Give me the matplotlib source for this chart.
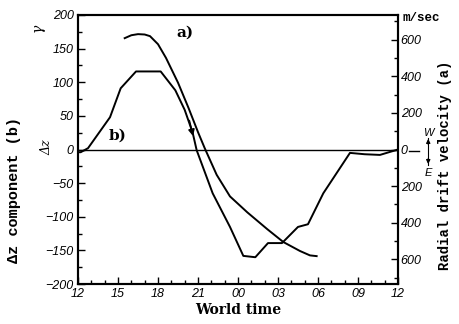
import numpy as np
import matplotlib.pyplot as plt
from matplotlib.ticker import MultipleLocator, FuncFormatter

# hours of world time, counted on from 12 h of the first day
b_time = [12.0, 12.2, 12.75, 14.4, 15.2, 16.35, 18.2, 19.3, 20.0, 20.6, 20.9, 22.1, 23.4,
          24.4, 25.3, 26.25, 27.3, 28.5, 29.25, 30.4, 32.4, 33.5, 34.65, 36.0]
b_dz = [-4, -4, 2, 48, 91, 116, 116, 88, 59, 25, -1, -65, -115,
        -158, -160, -139, -139, -115, -111, -65, -5, -7, -8, 0]

a_time = [15.5, 16.0, 16.5, 17.0, 17.4, 18.0, 18.6, 19.5, 20.3, 21.0, 21.5, 22.4, 23.4,
          24.7, 26.2, 27.4, 28.65, 29.4, 29.9]
a_vel = [608, 624, 630, 628, 619, 575, 500, 365, 225, 95, 8, -138, -256,
         -343, -435, -505, -554, -578, -582]

tick_hours = [12, 15, 18, 21, 24, 27, 30, 33, 36]
tick_labels = ['12', '15', '18', '21', '00', '03', '06', '09', '12']

fig = plt.figure(figsize=(4.59, 3.24), dpi=100)
ax = fig.add_axes([0.170, 0.123, 0.697, 0.831])
ax2 = ax.twinx()

tickfont = dict(family='Liberation Sans', style='italic', size=9)
serif = dict(family='DejaVu Serif', weight='bold')

ax.plot(b_time, b_dz, color='black', lw=1.4)
ax.axhline(0, color='black', lw=1.0)
ax.set_xlim(12, 36)
ax.set_ylim(-200, 200)
ax.set_xticks(tick_hours)
ax.set_xticklabels(tick_labels, **tickfont)
ax.xaxis.set_minor_locator(MultipleLocator(1))
ax.set_yticks(range(-200, 201, 50))
ax.set_yticklabels([str(v).replace('-', '\u2212') for v in range(-200, 201, 50)], **tickfont)
ax.yaxis.set_minor_locator(MultipleLocator(25))
ax.tick_params(which='both', direction='in', length=5, width=1.0, pad=3)
ax.tick_params(which='minor', length=3)

ax2.plot(a_time, a_vel, color='black', lw=1.4)
ax2.set_ylim(-735, 735)
ax2.set_yticks([-600, -400, -200, 0, 200, 400, 600])
ax2.yaxis.set_major_formatter(FuncFormatter(lambda v, p: '%d' % abs(v)))
for lab in ax2.get_yticklabels():
    lab.set_fontfamily('Liberation Sans')
    lab.set_fontstyle('italic')
    lab.set_fontsize(9)
ax2.yaxis.set_minor_locator(MultipleLocator(100))
ax2.tick_params(which='both', direction='in', length=5, width=1.0, pad=2)
ax2.tick_params(which='minor', length=3)

for a in (ax, ax2):
    for s in a.spines.values():
        s.set_linewidth(1.5)

# arrow on curve b
ax.annotate('', xy=(20.68, 16), xytext=(20.3, 47),
            arrowprops=dict(arrowstyle='-|>', color='black', lw=1.2, mutation_scale=9))

ax.text(19.4, 173, 'a)', fontsize=11, ha='left', va='center', **serif)
ax.text(15.0, 21, 'b)', fontsize=11, ha='center', va='center', **serif)

ax.set_xlabel('World time', fontsize=10, labelpad=2, **serif)
fig.text(0.030, 0.415, '\u0394z component (b)', rotation=90, ha='center', va='center',
         fontsize=11, family='Liberation Mono', weight='bold')
fig.text(0.970, 0.49, 'Radial drift velocity (a)', rotation=90, ha='center', va='center',
         fontsize=10, family='Liberation Mono', weight='bold')
fig.text(0.917, 0.945, 'm/sec', ha='center', va='center', fontsize=9,
         family='Liberation Mono', weight='bold')
fig.text(0.083, 0.915, '\u03b3', rotation=90, ha='center', va='center', fontsize=10,
         family='DejaVu Serif', style='italic')
fig.text(0.103, 0.545, '\u0394z', rotation=90, ha='center', va='center', fontsize=9,
         family='DejaVu Serif', style='italic')

# W / E direction marks next to the right zero
fig.add_artist(plt.Line2D([0.890, 0.912], [0.535, 0.535], color='black', lw=1.0))
fig.add_artist(plt.Line2D([0.933, 0.933], [0.575, 0.49], color='black', lw=0.8))
fig.text(0.933, 0.59, 'W', ha='center', va='center', fontsize=8, style='italic',
         family='Liberation Sans')
fig.text(0.933, 0.465, 'E', ha='center', va='center', fontsize=8, style='italic',
         family='Liberation Sans')
ax.annotate('', xy=(0.933, 0.58), xytext=(0.933, 0.545), xycoords='figure fraction',
            arrowprops=dict(arrowstyle='-|>', color='black', lw=0.8, mutation_scale=6))
ax.annotate('', xy=(0.933, 0.485), xytext=(0.933, 0.52), xycoords='figure fraction',
            arrowprops=dict(arrowstyle='-|>', color='black', lw=0.8, mutation_scale=6))

fig.savefig('out.png', dpi=100)
